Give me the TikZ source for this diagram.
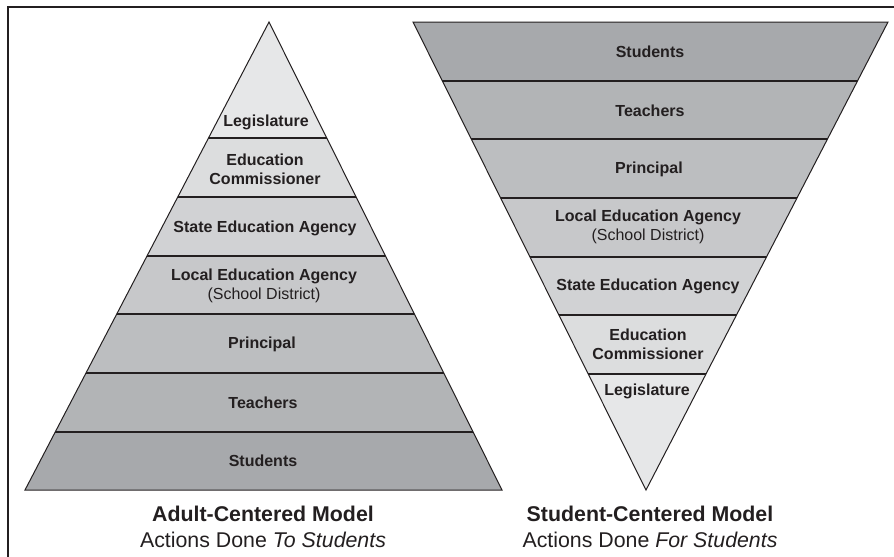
\documentclass[tikz,border=0pt]{standalone}
\usepackage{fontspec}
\setmainfont{Liberation Sans}
\definecolor{inkgray}{HTML}{231F20}
\definecolor{bandA}{HTML}{E6E7E8}
\definecolor{bandB}{HTML}{DCDDDE}
\definecolor{bandC}{HTML}{D1D2D4}
\definecolor{bandD}{HTML}{C7C8CA}
\definecolor{bandE}{HTML}{BCBEC0}
\definecolor{bandF}{HTML}{B2B4B6}
\definecolor{bandG}{HTML}{A7A9AC}
\tikzset{every picture/.style={line width=0.75pt}}
\tikzset{
  lvl/.style={font=\fontsize{12}{14}\selectfont\bfseries, text=inkgray, align=center, inner sep=0.75pt},
  modelcap/.style={font=\fontsize{16}{19.5}\selectfont, text=inkgray, align=center, inner sep=0.75pt},
  sepline/.style={draw=inkgray, line width=1.1pt}
}

\begin{document}
\begin{tikzpicture}[x=0.75pt,y=0.75pt,yscale=-1,xscale=1]
		\path[use as bounding box] (0,0) rectangle (894,557);
		%Shape: Frame (only top and left sides show)
		\draw [draw=inkgray, line width=1.3pt] (8,557) -- (8,7) -- (894,7) ;
		%Shape: Triangle, bands of the adult-centered model
		\begin{scope}
		\clip (269,22) -- (502,490) -- (25,490) -- cycle ;
		\fill [bandA] (0,0) rectangle (894,138) ;
		\fill [bandB] (0,138) rectangle (894,197) ;
		\fill [bandC] (0,197) rectangle (894,256) ;
		\fill [bandD] (0,256) rectangle (894,314) ;
		\fill [bandE] (0,314) rectangle (894,373) ;
		\fill [bandF] (0,373) rectangle (894,432) ;
		\fill [bandG] (0,432) rectangle (894,490) ;
		\foreach \y in {138,197,256,314,373,432}
		  \draw [sepline] (0,\y) -- (894,\y) ;
		\end{scope}
		\draw [draw=inkgray, line join=miter] (269,22) -- (502,490) -- (25,490) -- cycle ;
		%Shape: Inverted Triangle, bands of the student-centered model
		\begin{scope}
		\clip (413,22) -- (888,22) -- (646,490) -- cycle ;
		\fill [bandG] (400,0) rectangle (894,81) ;
		\fill [bandF] (400,81) rectangle (894,139) ;
		\fill [bandE] (400,139) rectangle (894,198) ;
		\fill [bandD] (400,198) rectangle (894,257) ;
		\fill [bandC] (400,257) rectangle (894,315) ;
		\fill [bandB] (400,315) rectangle (894,374) ;
		\fill [bandA] (400,374) rectangle (894,490) ;
		\foreach \y in {81,139,198,257,315,374}
		  \draw [sepline] (400,\y) -- (894,\y) ;
		\end{scope}
		\draw [draw=inkgray, line join=miter] (413,22) -- (888,22) -- (646,490) -- cycle ;
		% Text Node
		\draw (266,122) node (aLeg) [lvl] {Legislature};
		% Text Node
		\draw (265,169) node (aCom) [lvl] {Education\\Commissioner};
		% Text Node
		\draw (265,228) node (aSea) [lvl] {State Education Agency};
		% Text Node
		\draw (264,286) node (aLea) [lvl] {Local Education Agency\\{\mdseries (School District)}};
		% Text Node
		\draw (262,344) node (aPri) [lvl] {Principal};
		% Text Node
		\draw (263,403) node (aTea) [lvl] {Teachers};
		% Text Node
		\draw (263,461) node (aStu) [lvl] {Students};
		% Text Node
		\draw (650,52) node (sStu) [lvl] {Students};
		% Text Node
		\draw (650,111) node (sTea) [lvl] {Teachers};
		% Text Node
		\draw (649,169) node (sPri) [lvl] {Principal};
		% Text Node
		\draw (648,227) node (sLea) [lvl] {Local Education Agency\\{\mdseries (School District)}};
		% Text Node
		\draw (648,286) node (sSea) [lvl] {State Education Agency};
		% Text Node
		\draw (648,344) node (sCom) [lvl] {Education\\Commissioner};
		% Text Node
		\draw (647,391) node (sLeg) [lvl] {Legislature};
		% Text Node
		\draw (263,527) node (aCap) [modelcap] {\textbf{Adult-Centered Model}\\Actions Done \textit{To Students}};
		% Text Node
		\draw (650,527) node (sCap) [modelcap] {\textbf{Student-Centered Model}\\Actions Done \textit{For Students}};
\end{tikzpicture}
\end{document}
